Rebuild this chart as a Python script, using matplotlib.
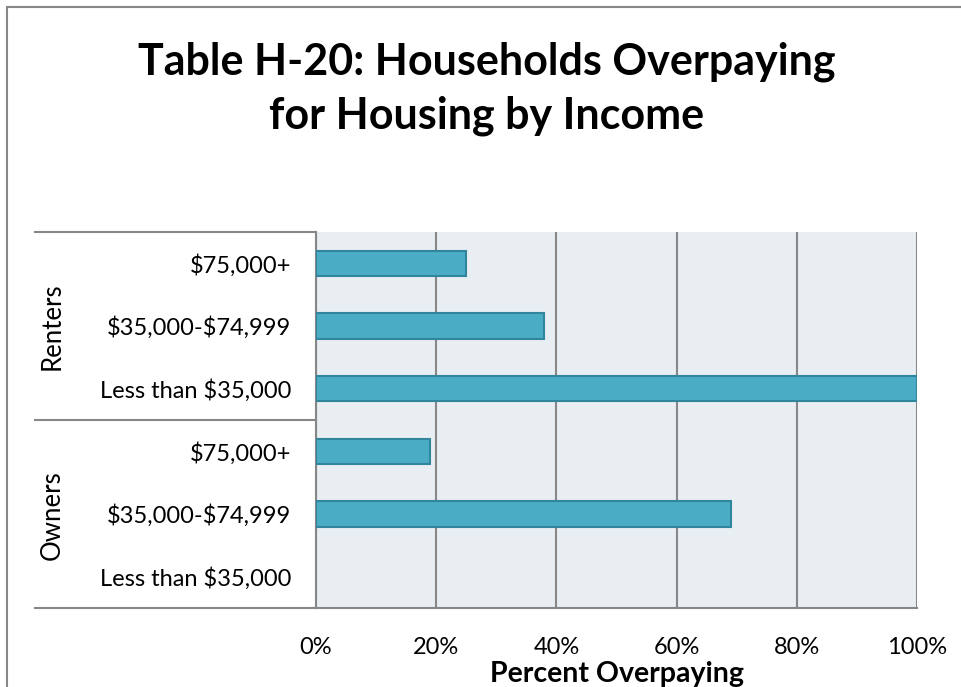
import matplotlib
matplotlib.use("Agg")
import matplotlib.pyplot as plt
import matplotlib.transforms as mtrans
from matplotlib.lines import Line2D
from matplotlib.patches import Rectangle

plt.rcParams["text.parse_math"] = False

# データ
groups = ["Renters", "Owners"]
income_labels = ["$75,000+", "$35,000-$74,999", "Less than $35,000",
                 "$75,000+", "$35,000-$74,999", "Less than $35,000"]
renters_pct = [25, 38, 100]
owners_pct = [19, 69, 0]
x_ticks = [0, 20, 40, 60, 80, 100]

values = renters_pct + owners_pct
n = len(values)
ypos = list(range(n - 1, -1, -1))

fig = plt.figure(figsize=(9.61, 6.87), dpi=100)
ax = fig.add_axes([316 / 961, 79 / 687, 601 / 961, 376 / 687])
ax.set_facecolor("#E8EEF2")

edges = ["#31859C" if v > 0 else "none" for v in values]
ax.barh(ypos, values, height=0.4, color="#4BACC6", edgecolor=edges, linewidth=1.5, zorder=3)

ax.set_xlim(0, 100)
ax.set_ylim(-0.5, n - 0.5)
ax.set_xticks(x_ticks)
ax.set_xticklabels([f"{t}%" for t in x_ticks], fontsize=17, family="Lato")
ax.set_yticks(ypos)
ax.set_yticklabels(income_labels, fontsize=17, family="Lato")
ax.tick_params(axis="both", length=0)
ax.tick_params(axis="x", pad=21)
ax.tick_params(axis="y", pad=18)
ax.grid(axis="x", color="#878787", linewidth=1.5, zorder=1)

for s in ["top", "right"]:
    ax.spines[s].set_visible(False)
ax.spines["left"].set_color("#878787")
ax.spines["left"].set_linewidth(1.5)
ax.spines["bottom"].set_color("#878787")
ax.spines["bottom"].set_linewidth(1.5)

ax.set_xlabel("Percent Overpaying", fontsize=20.5, fontweight="bold", family="Lato", labelpad=2)

# グループの区切り線
tr = mtrans.blended_transform_factory(fig.transFigure, ax.transData)
for yl in [n - 0.5, 2.5, -0.5]:
    fig.add_artist(Line2D([35 / 961, 316 / 961], [yl, yl], transform=tr, color="#878787", linewidth=1.5))

# グループ名
fig.text(52 / 961, 1 - 326 / 687, groups[0], rotation=90, ha="center", va="center", fontsize=18.5, family="Lato")
fig.text(52 / 961, 1 - 515 / 687, groups[1], rotation=90, ha="center", va="center", fontsize=18.5, family="Lato")

# タイトル（2行）
fig.text(487 / 961, 1 - 62 / 687, "Table H-20: Households Overpaying",
         ha="center", va="center", fontsize=31, fontweight="bold", family="Lato")
fig.text(487 / 961, 1 - 116 / 687, "for Housing by Income",
         ha="center", va="center", fontsize=31, fontweight="bold", family="Lato")

# 外枠
fig.add_artist(Rectangle((7 / 961, -0.1), 1.2, 1 - 7 / 687 + 0.1, transform=fig.transFigure,
                         fill=False, edgecolor="#878787", linewidth=1.5))

fig.savefig("out.png", dpi=100)
